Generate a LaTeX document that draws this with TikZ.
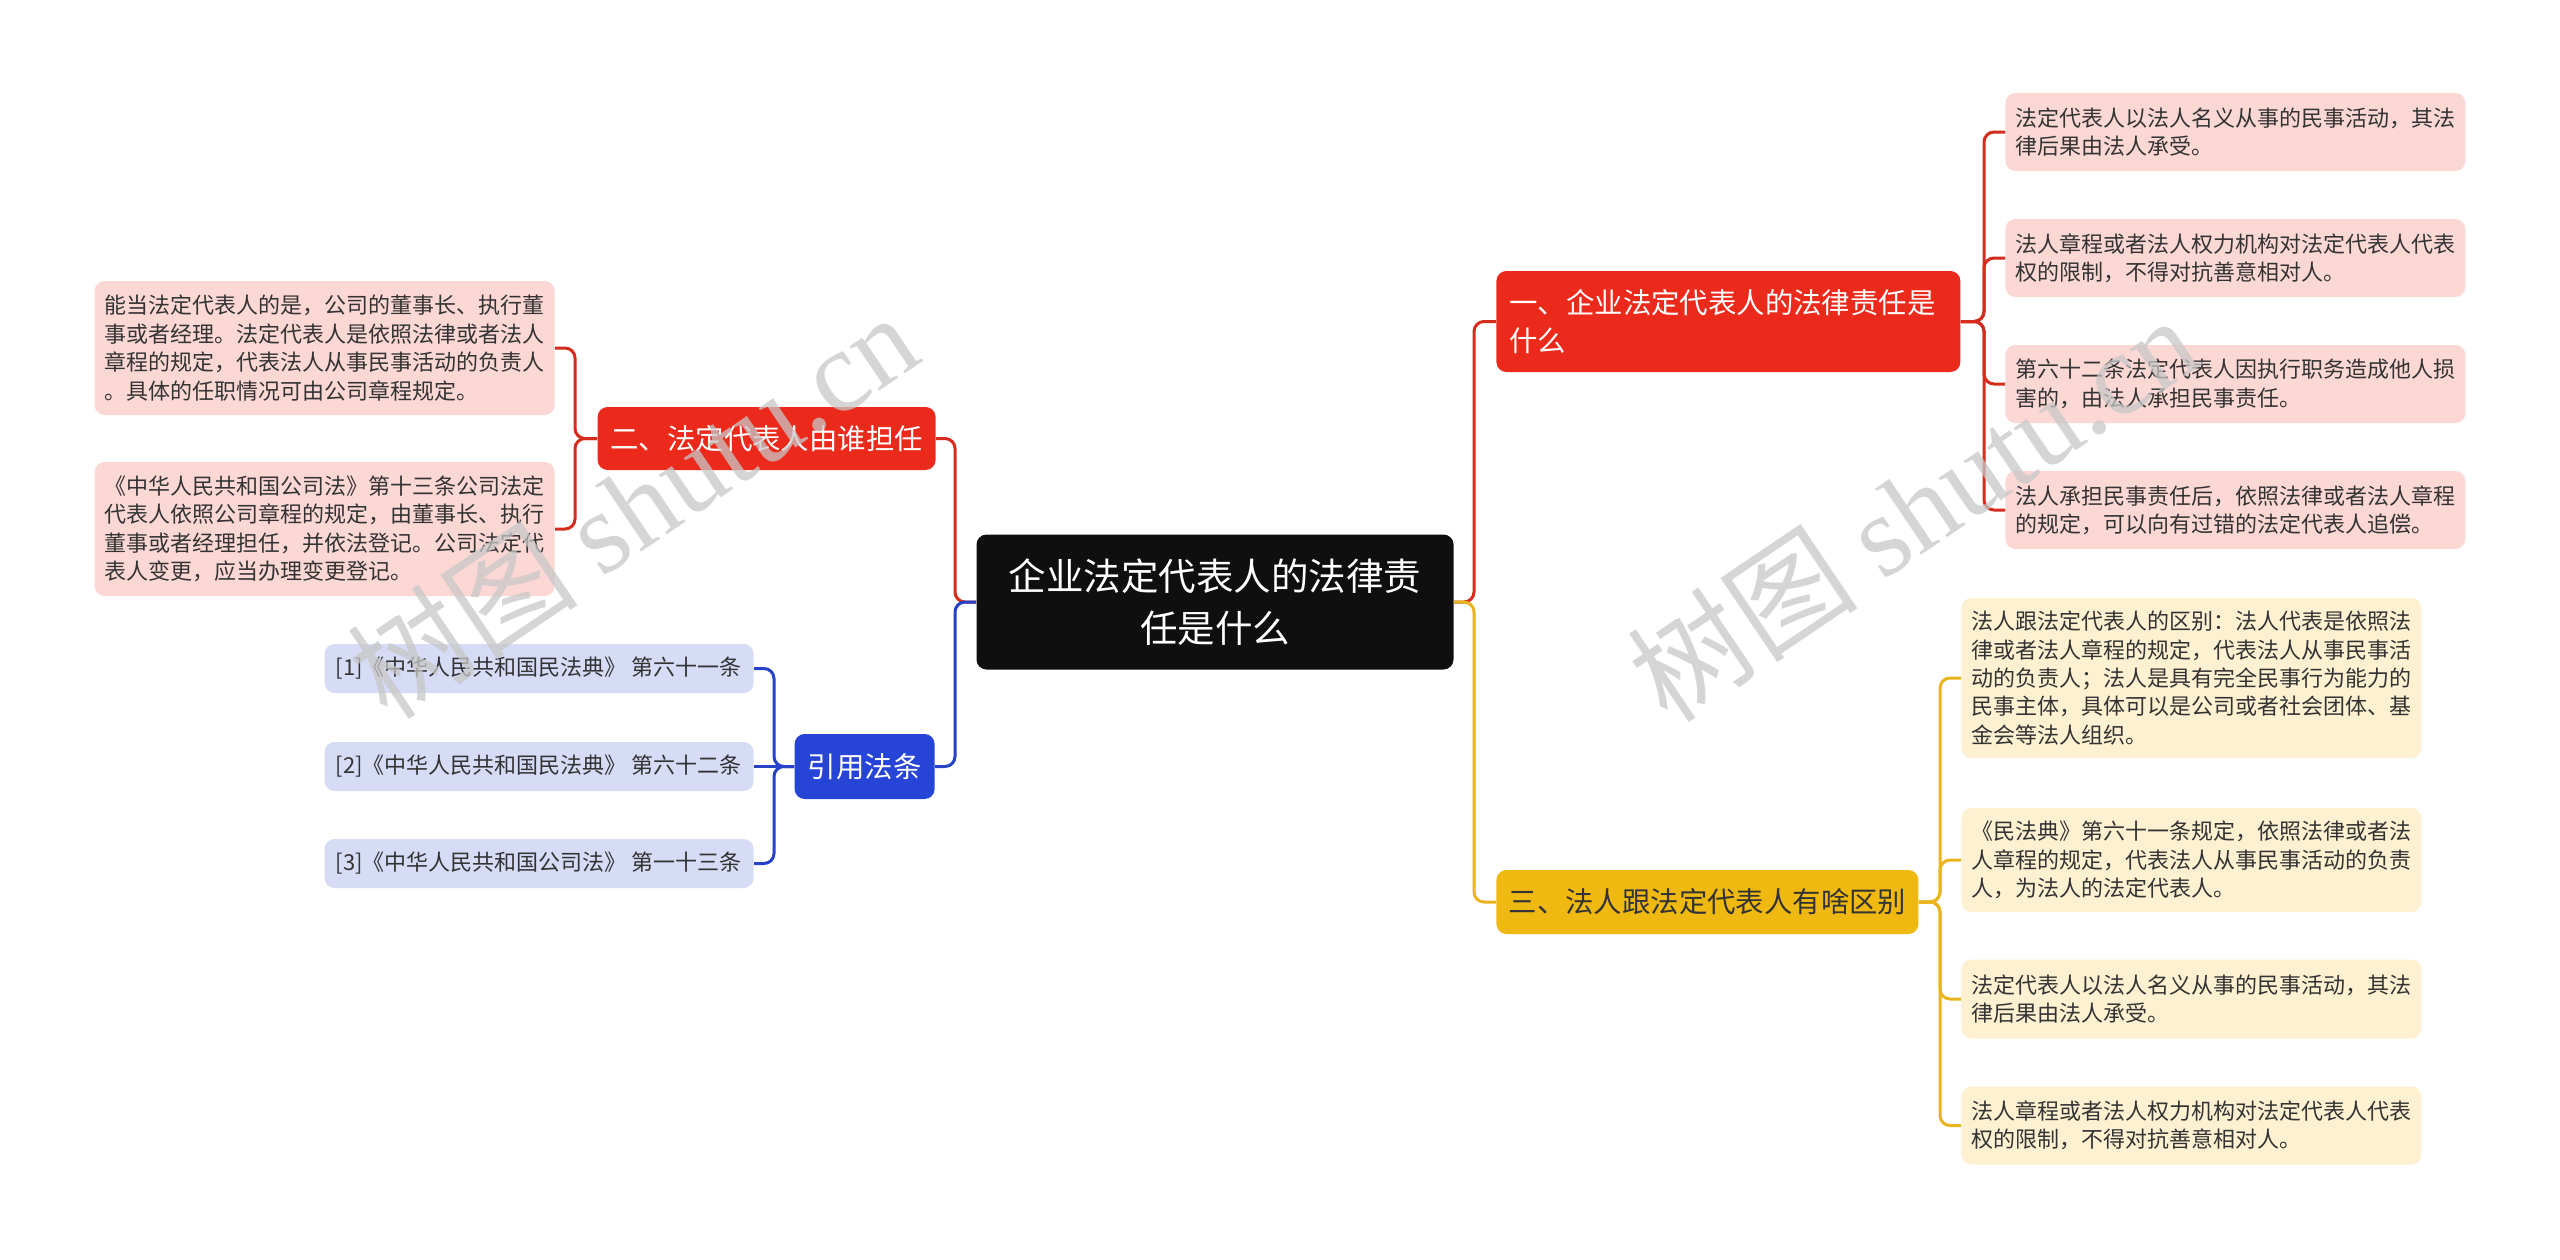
\documentclass[tikz,border=0pt]{standalone}
\usepackage{fontspec}
\setmainfont{Noto Sans CJK SC}
\newfontfamily\wmlatin{Liberation Serif}
\newfontfamily\wmcjk{Noto Sans CJK SC}
\definecolor{cRed}{RGB}{236,42,27}
\definecolor{cRedLeaf}{RGB}{252,216,213}
\definecolor{cRedLine}{RGB}{214,44,30}
\definecolor{cBlue}{RGB}{38,68,214}
\definecolor{cBlueLeaf}{RGB}{214,219,246}
\definecolor{cBlueLine}{RGB}{38,66,200}
\definecolor{cYel}{RGB}{240,185,18}
\definecolor{cYelLeaf}{RGB}{253,241,210}
\definecolor{cYelLine}{RGB}{234,180,30}
\definecolor{cDark}{RGB}{15,15,15}
\definecolor{cText}{RGB}{51,51,51}
\tikzset{
  basebox/.style={rounded corners=5pt, inner sep=0pt},
  leaftext/.style={font=\fontsize{11}{14.2}\selectfont, text=cText, align=left},
  rleaf/.style={basebox, leaftext, fill=cRedLeaf, text width=220pt, inner xsep=5pt, minimum width=230pt},
  yleaf/.style={basebox, leaftext, fill=cYelLeaf, text width=220pt, inner xsep=5pt, minimum width=230pt},
  bleaf/.style={basebox, font=\fontsize{11}{14.2}\selectfont, text=cText, fill=cBlueLeaf, inner xsep=5.5pt, minimum width=214.5pt, minimum height=24.5pt},
  branchtext/.style={font=\fontsize{14.2}{19}\selectfont},
  conn/.style={line width=1.5pt, rounded corners=5pt},
  wm/.style={text=black!22, opacity=0.75, rotate=34, font=\fontsize{58}{60}\selectfont}
}
\newcommand{\qtext}[1]{\makebox[203.5pt][l]{#1}}
\begin{document}
\begin{tikzpicture}[x=0.5pt,y=-0.5pt]
\useasboundingbox (0,0) rectangle (2560,1259);
\fill[white] (0,0) rectangle (2560,1259);

% central
\node[basebox, fill=cDark, text=white, align=center, minimum width=238.5pt, minimum height=67.5pt,
      font=\fontsize{18.75}{26}\selectfont] (c) at (1215,602) {企业法定代表人的法律责\\任是什么};

% branches
\node[basebox, fill=cRed, text=white, branchtext, align=left, text width=219pt, inner xsep=6.5pt,
      minimum height=50.5pt, anchor=west] (b1) at (1496,321.5) {一、企业法定代表人的法律责任是\\什么};
\node[basebox, fill=cRed, text=white, branchtext, minimum width=169pt, minimum height=31.5pt,
      anchor=east] (b2) at (936,438.5) {二、法定代表人由谁担任};
\node[basebox, fill=cBlue, text=white, branchtext, minimum width=70pt, minimum height=32.5pt,
      anchor=east] (b3) at (935,766.5) {引用法条};
\node[basebox, fill=cYel, text=cText, branchtext, minimum width=211pt, minimum height=32pt,
      anchor=west] (b4) at (1496,902) {三、法人跟法定代表人有啥区别};

% red leaves (branch 1)
\node[rleaf, minimum height=39pt, anchor=west] (r1) at (2005,132) {法定代表人以法人名义从事的民事活动，其法\\律后果由法人承受。};
\node[rleaf, minimum height=39pt, anchor=west] (r2) at (2005,258) {法人章程或者法人权力机构对法定代表人代表\\权的限制，不得对抗善意相对人。};
\node[rleaf, minimum height=39pt, anchor=west] (r3) at (2005,384) {第六十二条法定代表人因执行职务造成他人损\\害的，由法人承担民事责任。};
\node[rleaf, minimum height=39pt, anchor=west] (r4) at (2005,510) {法人承担民事责任后，依照法律或者法人章程\\的规定，可以向有过错的法定代表人追偿。};

% left leaves (branch 2)
\node[rleaf, minimum height=67pt, anchor=east] (l1) at (555,348) {能当法定代表人的是，公司的董事长、执行董\\事或者经理。法定代表人是依照法律或者法人\\章程的规定，代表法人从事民事活动的负责人\\。具体的任职情况可由公司章程规定。};
\node[rleaf, minimum height=67pt, anchor=east] (l2) at (555,529) {《中华人民共和国公司法》第十三条公司法定\\代表人依照公司章程的规定，由董事长、执行\\董事或者经理担任，并依法登记。公司法定代\\表人变更，应当办理变更登记。};

% blue leaves
\node[bleaf, anchor=east] (q1) at (754,668.5) {\qtext{[1]《中华人民共和国民法典》 第六十一条}};
\node[bleaf, anchor=east] (q2) at (754,766.5) {\qtext{[2]《中华人民共和国民法典》 第六十二条}};
\node[bleaf, anchor=east] (q3) at (754,863.5) {\qtext{[3]《中华人民共和国公司法》 第一十三条}};

% yellow leaves
\node[yleaf, minimum height=80pt, anchor=west] (y1) at (1961,678) {法人跟法定代表人的区别：法人代表是依照法\\律或者法人章程的规定，代表法人从事民事活\\动的负责人；法人是具有完全民事行为能力的\\民事主体，具体可以是公司或者社会团体、基\\金会等法人组织。};
\node[yleaf, minimum height=52pt, anchor=west] (y2) at (1961,860) {《民法典》第六十一条规定，依照法律或者法\\人章程的规定，代表法人从事民事活动的负责\\人，为法人的法定代表人。};
\node[yleaf, minimum height=39.5pt, anchor=west] (y3) at (1961,999) {法定代表人以法人名义从事的民事活动，其法\\律后果由法人承受。};
\node[yleaf, minimum height=39pt, anchor=west] (y4) at (1961,1125.5) {法人章程或者法人权力机构对法定代表人代表\\权的限制，不得对抗善意相对人。};

% junction coordinates
\coordinate (rj) at (1474,602);
\coordinate (lj) at (955,602);
\coordinate (s1) at (1984,321.5);
\coordinate (s2) at (575,438.5);
\coordinate (s3) at (774,766.5);
\coordinate (s4) at (1940,902);

% main connectors
\draw[conn, cRedLine] (c.east) -- (rj) |- (b1.west);
\draw[conn, cYelLine] (c.east) -- (rj) |- (b4.west);
\draw[conn, cRedLine] (c.west) -- (lj) |- (b2.east);
\draw[conn, cBlueLine] (c.west) -- (lj) |- (b3.east);

% branch 1 children
\foreach \n in {r1,r2,r3,r4} \draw[conn, cRedLine] (b1.east) -- (s1) |- (\n.west);
% branch 2 children
\foreach \n in {l1,l2} \draw[conn, cRedLine] (b2.west) -- (s2) |- (\n.east);
% branch 3 children
\draw[conn, cBlueLine] (b3.west) -- (s3) |- (q1.east);
\draw[conn, cBlueLine] (b3.west) -- (q2.east);
\draw[conn, cBlueLine] (b3.west) -- (s3) |- (q3.east);
% branch 4 children
\foreach \n in {y1,y2,y3,y4} \draw[conn, cYelLine] (b4.east) -- (s4) |- (\n.west);

% watermarks
\node[wm] (wm1) at (632,505) {\wmcjk 树图\ \wmlatin shutu.cn};
\node[wm] (wm2) at (1912,508) {\wmcjk 树图\ \wmlatin shutu.cn};
\end{tikzpicture}
\end{document}
